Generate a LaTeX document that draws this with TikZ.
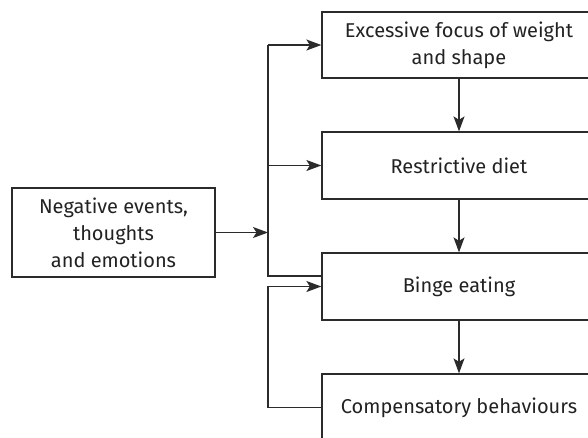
\documentclass[tikz,border=0pt]{standalone}
\usepackage{fontspec}
\setmainfont{Fira Sans}
\usetikzlibrary{arrows.meta}
\definecolor{ln}{HTML}{2B2B2B}
\definecolor{tx}{HTML}{222222}
\tikzset{
  box/.style={draw=ln, line width=1.3pt, minimum width=274pt, inner sep=0pt, align=center, text=tx, font=\fontsize{20}{27}\selectfont},
  conn/.style={draw=ln, line width=1.3pt},
  arr/.style={conn, -{Stealth[length=15pt, width=11pt, inset=3.5pt]}}
}
\begin{document}
\begin{tikzpicture}[x=1pt, y=-1pt]
\useasboundingbox (0,0) rectangle (588,437);
\clip (0,0) rectangle (588,437);
\node[box, minimum height=66pt] (b1) at (459,45) {Excessive focus of weight\\and shape};
\node[box, minimum height=67pt] (b2) at (459,165.5) {Restrictive diet};
\node[box, minimum height=67pt] (b3) at (459,286.5) {Binge eating};
\node[box, minimum height=67pt] (b4) at (459,407.5) {Compensatory behaviours};
\node[box, minimum width=203pt, minimum height=89pt] (neg) at (113.5,232.5) {Negative events,\\thoughts\\and emotions};
\coordinate (tTop) at (268,45);
\coordinate (tMid) at (268,165.5);
\coordinate (tBot) at (268,276);
\coordinate (jn) at (268,232.5);
\coordinate (lb) at (268,407.5);
\coordinate (lt) at (268,286.5);
\draw[arr] (neg.east) -- (jn);
\draw[arr] (tTop) -- (b1.west);
\draw[arr] (tMid) -- (b2.west);
\draw[conn] (tTop) -- (tBot) -- (tBot -| b3.west);
\draw[arr] (b4.west) -- (lb) -- (lt) -- (b3.west);
\draw[arr] (b1.south) -- (b2.north);
\draw[arr] (b2.south) -- (b3.north);
\draw[arr] (b3.south) -- (b4.north);
\end{tikzpicture}
\end{document}
